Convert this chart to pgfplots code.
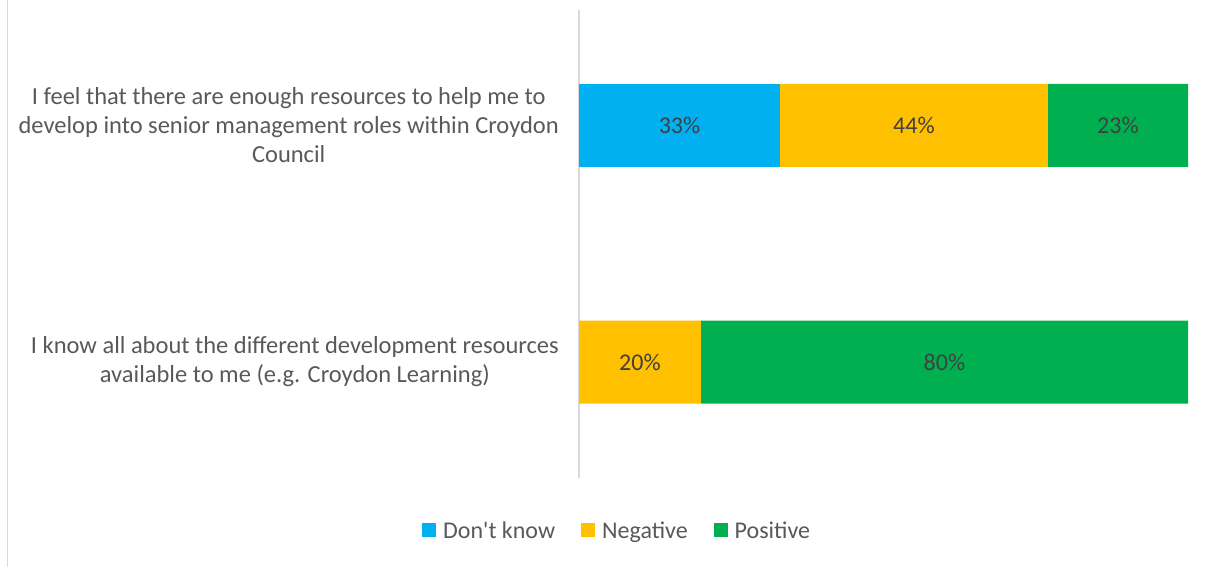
\documentclass[border=0pt]{standalone}
\usepackage{fontspec}
\setmainfont{Carlito}
\usepackage{pgfplots}
\pgfplotsset{compat=1.18}
\definecolor{cblue}{HTML}{00B0F0}
\definecolor{cyellow}{HTML}{FFC000}
\definecolor{cgreen}{HTML}{00B050}
\definecolor{axgray}{HTML}{D9D9D9}
\definecolor{labgray}{HTML}{595959}
\definecolor{pctgray}{HTML}{404040}
\newcommand{\cf}{\fontsize{24.5}{29}\selectfont}
\newcommand{\pf}{\fontsize{24}{29}\selectfont}
\begin{document}
\begin{tikzpicture}[x=1pt,y=1pt]
\useasboundingbox (0,0) rectangle (1214,567);
\fill[white] (0,0) rectangle (1214,567);
\draw[axgray, line width=1.5pt] (7.5,0) -- (7.5,567);
\begin{axis}[
  at={(579pt,89pt)}, anchor=south west,
  scale only axis, width=609pt, height=468pt,
  xbar stacked,
  xmin=0, xmax=100, ymin=-0.49, ymax=1.488,
  bar width=0.351,
  axis x line=none,
  axis y line*=left,
  y axis line style={axgray, line width=1.5pt},
  ytick={0,1},
  yticklabels={{I know all about the different development resources\\available to me (e.g. Croydon Learning)},{I feel that there are enough resources to help me to\\develop into senior management roles within Croydon\\Council}},
  ytick style={draw=none},
  yticklabel style={align=center, font=\cf, text=labgray, inner sep=0pt, xshift=-20pt},
  legend style={at={(rel axis cs:0.061,-0.113)}, anchor=center, legend columns=-1, draw=none, fill=none,
    font=\pf, text=labgray, nodes={inner sep=0pt},
    /tikz/every odd column/.append style={column sep=7pt},
    /tikz/every even column/.append style={column sep=26pt}},
]
\addplot[fill=cblue, draw=none, legend image code/.code={\fill[cblue] (0pt,-6pt) rectangle (14pt,8pt);}] coordinates {(0,0) (33,1)};
\addplot[fill=cyellow, draw=none, legend image code/.code={\fill[cyellow] (0pt,-6pt) rectangle (14pt,8pt);}] coordinates {(20,0) (44,1)};
\addplot[fill=cgreen, draw=none, legend image code/.code={\fill[cgreen] (0pt,-6pt) rectangle (14pt,8pt);}] coordinates {(80,0) (23,1)};
\legend{Don\textquotesingle t know, Negative, Positive}
\end{axis}
\begin{axis}[
  at={(579pt,89pt)}, anchor=south west,
  scale only axis, width=609pt, height=468pt,
  xmin=0, xmax=100, ymin=-0.49, ymax=1.488,
  hide axis,
]
\addplot[draw=none, mark=none, nodes near coords={\pgfplotspointmeta}, point meta=explicit symbolic,
  every node near coord/.append style={anchor=center, font=\pf, text=pctgray}]
  coordinates {(16.5,1) [33\%] (55,1) [44\%] (88.5,1) [23\%] (10,0) [20\%] (60,0) [80\%]};
\end{axis}
\end{tikzpicture}
\end{document}
